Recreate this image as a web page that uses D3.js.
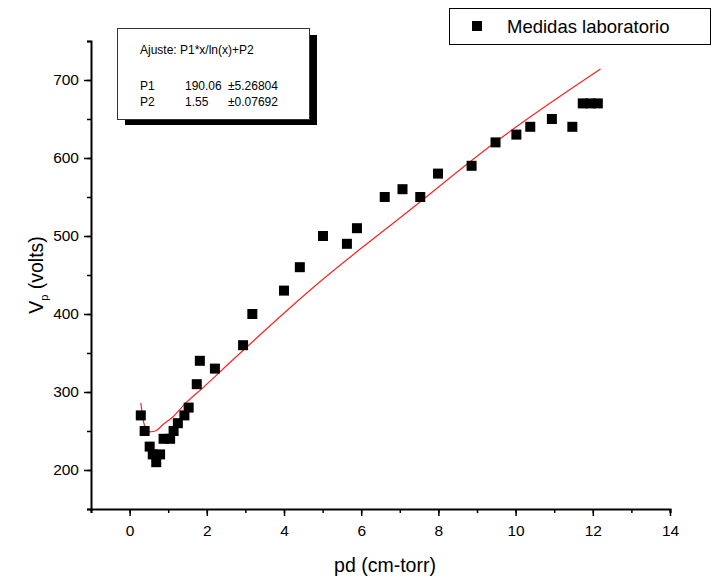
<!DOCTYPE html>
<html>
<head>
<meta charset="utf-8" />
<script src="https://cdnjs.cloudflare.com/ajax/libs/d3/7.8.5/d3.min.js"></script>
<style>
  body { margin: 0; background: #fff; }
  text { font-family: "Liberation Sans", Arial, sans-serif; }
</style>
</head>
<body>
<svg width="713" height="581"></svg>
<script>
// measured points (pd, Vp)
let pd = [0.29, 0.39, 0.52, 0.60, 0.69, 0.79, 0.88, 1.05, 1.14, 1.25, 1.42, 1.53, 1.74, 1.82, 2.21,
          2.94, 3.18, 4.0, 4.41, 5.01, 5.63, 5.89, 6.61, 7.07, 7.53, 7.99, 8.86, 9.48, 10.02, 10.38,
          10.94, 11.47, 11.74, 11.94, 12.13];
let vp = [270, 250, 230, 220, 210, 220, 240, 240, 250, 260, 270, 280, 310, 340, 330,
          360, 400, 430, 460, 500, 490, 510, 550, 560, 550, 580, 590, 620, 630, 640,
          650, 640, 670, 670, 670];

// fitted curve
let fitX = [0.29, 0.36, 0.42, 0.53, 0.67, 0.86, 1.12, 1.46, 1.89, 2.67, 4.9, 7.23, 9.55, 12.2];
let fitY = [286, 262, 253, 249, 250, 258, 268, 286, 305, 341, 440, 532, 623, 714];

let xTicks = [0, 2, 4, 6, 8, 10, 12, 14];
let yTicks = [200, 300, 400, 500, 600, 700];

let fitText = "Ajuste: P1*x/ln(x)+P2";
let params = [["P1", "190.06", "\u00b15.26804"], ["P2", "1.55", "\u00b10.07692"]];

const svg = d3.select("svg");

const x = d3.scaleLinear().domain([-1, 14]).range([91, 670]);
const y = d3.scaleLinear().domain([150, 750]).range([509, 41]);

// axes: minor ticks first, then labelled major ticks
const xAxisG = svg.append("g").attr("transform", `translate(0,${y(150)})`);
xAxisG.call(d3.axisBottom(x).tickValues(d3.range(-1, 15)).tickSize(4).tickFormat(""));
xAxisG.selectAll(".tick line").attr("stroke-width", 1.5);
const xMajor = svg.append("g").attr("transform", `translate(0,${y(150)})`)
  .call(d3.axisBottom(x).tickValues(xTicks).tickSize(7).tickPadding(9));
xMajor.select(".domain").remove();
xMajor.selectAll(".tick line").attr("stroke-width", 1.5);
xMajor.selectAll(".tick text").attr("font-size", 15.5).attr("fill", "#000");

const yAxisG = svg.append("g").attr("transform", `translate(${x(-1)},0)`);
yAxisG.call(d3.axisLeft(y).tickValues(d3.range(150, 751, 50)).tickSize(4).tickFormat(""));
yAxisG.selectAll(".tick line").attr("stroke-width", 1.5);
const yMajor = svg.append("g").attr("transform", `translate(${x(-1)},0)`)
  .call(d3.axisLeft(y).tickValues(yTicks).tickSize(7).tickPadding(5));
yMajor.select(".domain").remove();
yMajor.selectAll(".tick line").attr("stroke-width", 1.5);
yMajor.selectAll(".tick text").attr("font-size", 15.5).attr("fill", "#000");

svg.selectAll(".domain").attr("stroke-width", 2).attr("stroke", "#000");

// axis titles
svg.append("text").attr("x", 385).attr("y", 572)
  .attr("text-anchor", "middle").attr("font-size", 19.5).text("pd (cm-torr)");

const yt = svg.append("text").attr("transform", `translate(43,${y(450)}) rotate(-90)`)
  .attr("text-anchor", "middle").attr("font-size", 19.5);
yt.append("tspan").text("V");
yt.append("tspan").attr("font-size", 11).attr("dy", 5).text("p");
yt.append("tspan").attr("dy", -5).text(" (volts)");

// fit line
svg.append("path")
  .datum(fitX.map((d, i) => [d, fitY[i]]))
  .attr("fill", "none").attr("stroke", "#ff2020").attr("stroke-width", 1.2)
  .attr("d", d3.line().x(d => x(d[0])).y(d => y(d[1])).curve(d3.curveMonotoneX));

// points
const s = 10;
svg.selectAll("rect.pt").data(pd.map((d, i) => [d, vp[i]]))
  .enter().append("rect").attr("class", "pt")
  .attr("x", d => x(d[0]) - s / 2).attr("y", d => y(d[1]) - s / 2)
  .attr("width", s).attr("height", s).attr("fill", "#000");

// fit info box with shadow
svg.append("rect").attr("x", 125).attr("y", 35).attr("width", 192).attr("height", 90).attr("fill", "#000");
svg.append("rect").attr("x", 117.5).attr("y", 28.5).attr("width", 192).attr("height", 91)
  .attr("fill", "#fff").attr("stroke", "#333").attr("stroke-width", 1);
svg.append("text").attr("x", 140).attr("y", 54).attr("font-size", 12).text(fitText);
params.forEach((p, i) => {
  const ty = 90 + i * 15.5;
  svg.append("text").attr("x", 140).attr("y", ty).attr("font-size", 12).text(p[0]);
  svg.append("text").attr("x", 185).attr("y", ty).attr("font-size", 12).text(p[1]);
  svg.append("text").attr("x", 228).attr("y", ty).attr("font-size", 12).text(p[2]);
});

// legend
svg.append("rect").attr("x", 449.5).attr("y", 8.5).attr("width", 261).attr("height", 36)
  .attr("fill", "#fff").attr("stroke", "#000").attr("stroke-width", 1);
svg.append("rect").attr("x", 472).attr("y", 21).attr("width", 10).attr("height", 10).attr("fill", "#000");
svg.append("text").attr("x", 507).attr("y", 33).attr("font-size", 18.5).text("Medidas laboratorio");
</script>
</body>
</html>
